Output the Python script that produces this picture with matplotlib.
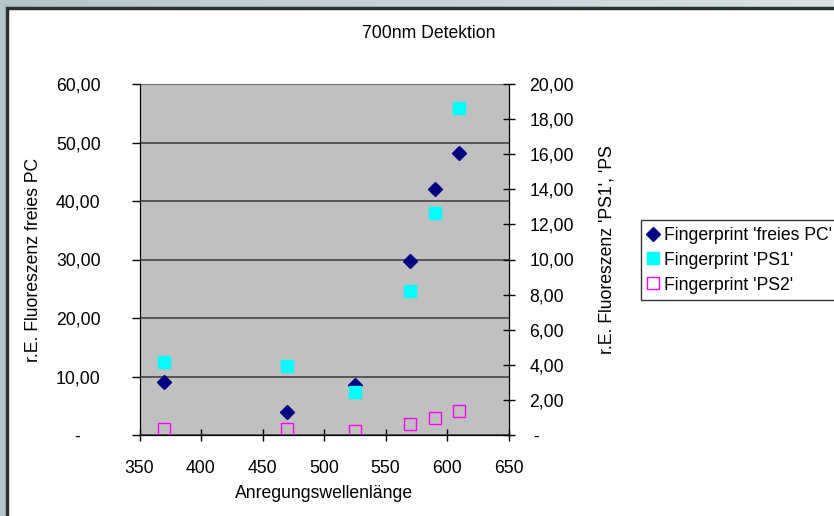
import numpy as np
import matplotlib
matplotlib.use("Agg")
import matplotlib.pyplot as plt
from matplotlib.patches import Rectangle
from matplotlib.colors import LinearSegmentedColormap

# data
wavelengths = [370, 470, 525, 570, 590, 610]
freies_pc = [9.0, 4.0, 8.6, 29.8, 42.1, 48.2]
ps1 = [4.18, 3.95, 2.47, 8.2, 12.66, 18.65]
ps2 = [0.36, 0.36, 0.25, 0.63, 0.99, 1.37]
labels = ["Fingerprint 'freies PC'", "Fingerprint 'PS1'", "Fingerprint 'PS2'"]

plt.rcParams['font.family'] = ['Liberation Sans', 'DejaVu Sans']
fs = 12.7
W, H = 834, 516

fig = plt.figure(figsize=(W / 100, H / 100), dpi=100)

# window-ish background gradient and white chart area
bg = fig.add_axes([0, 0, 1, 1], zorder=-10)
cmap = LinearSegmentedColormap.from_list('bg', ['#b3c5c9', '#d9e2e4'])
bg.imshow(np.linspace(0, 1, 256)[None, :], aspect='auto', cmap=cmap,
          extent=[0, 1, 0, 1])
bg.set_axis_off()
fig.patches.append(Rectangle((7 / W, -0.1), 1.2, 1.1 - 7.5 / H,
                             transform=fig.transFigure, facecolor='white',
                             edgecolor='#2b3133', lw=2.5, zorder=-5))


def fmt(v, pos=None):
    if v == 0:
        return '-'
    return f'{v:.2f}'.replace('.', ',')


ax = fig.add_axes([139.5 / W, 1 - 435 / H, 369 / W, 351 / H])
ax.set_facecolor('#c0c0c0')
ax.set_xlim(350, 650)
ax.set_ylim(0, 60)
ax.set_xticks(np.arange(350, 651, 50))
ax.set_yticks(np.arange(0, 61, 10))
ax.yaxis.set_major_formatter(plt.FuncFormatter(
    lambda v, p: '-    ' if v == 0 else fmt(v)))
ax.grid(axis='y', color='#3a3a3a', lw=1.1)
ax.set_axisbelow(True)
ax.tick_params(axis='y', direction='out', length=6, width=1, pad=22,
               labelsize=fs)
ax.tick_params(axis='x', direction='inout', length=8, width=1, pad=14,
               labelsize=fs)
for s in ['left', 'bottom']:
    ax.spines[s].set_color('black')
ax.spines['top'].set_color('#707070')

ax2 = ax.twinx()
ax2.set_ylim(0, 20)
ax2.set_yticks(np.arange(0, 21, 2))
ax2.yaxis.set_major_formatter(plt.FuncFormatter(
    lambda v, p: ' -' if v == 0 else fmt(v)))
ax2.tick_params(axis='y', direction='inout', length=8, width=1, pad=11,
                labelsize=fs)
ax2.spines['right'].set_color('black')
ax2.spines['top'].set_visible(False)

h1, = ax.plot(wavelengths, freies_pc, 'D', color='#000080', ms=7.3,
              mec='#000080', label=labels[0])
h2, = ax2.plot(wavelengths, ps1, 's', color='#00ffff', ms=8.5,
               mec='#00ffff', label=labels[1])
h3, = ax2.plot(wavelengths, ps2, 's', mfc='none', mec='#ff00ff', ms=8.5,
               mew=1, label=labels[2])

fig.text(429 / W, 1 - 33 / H, '700nm Detektion', ha='center', va='center',
         fontsize=fs)
fig.text(324 / W, 1 - 493 / H, 'Anregungswellenlänge', ha='center',
         va='center', fontsize=fs)
fig.text(34 / W, 1 - 260 / H, 'r.E. Fluoreszenz freies PC', rotation=90,
         ha='center', va='center', fontsize=fs)
fig.text(607 / W, 1 - 250 / H, "r.E. Fluoreszenz 'PS1', 'PS", rotation=90,
         ha='center', va='center', fontsize=fs)

leg = fig.legend(handles=[h1, h2, h3], loc='upper left',
                 bbox_to_anchor=(640.7 / W, 1 - 220 / H), fontsize=fs,
                 frameon=True, fancybox=False, borderpad=0.38,
                 handlelength=0.65, handletextpad=0.3, labelspacing=0.45,
                 borderaxespad=0)
leg.get_frame().set_edgecolor('black')
leg.get_frame().set_linewidth(1)
leg.set_zorder(5)

fig.savefig('out.png', dpi=100)
